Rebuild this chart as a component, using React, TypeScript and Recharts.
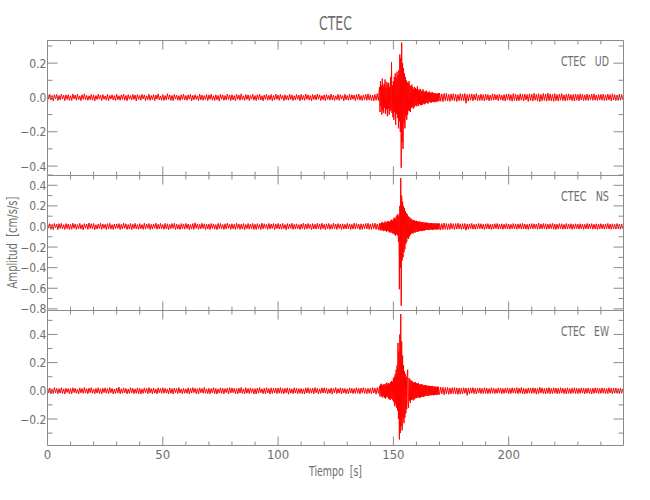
import { LineChart, Line, XAxis, YAxis } from "recharts";

// the quiet parts are read every 0.5 s, the event window (144-170 s) every 0.2 s
const QUIET_DT = 0.5;
const EVENT_DT = 0.2;
const EVENT_START = 144;
const POST_START = 170;

// ---- CTEC UD ----
const udPre = [
  .024,-.010,.018,-.015,.012,-.020,.016,-.008,.017,-.018,.011,-.014,.019,-.009,.013,-.019,.015,-.012,.016,-.017,
  .010,-.018,.020,-.009,.014,-.016,.018,-.013,.009,-.019,.016,-.011,.021,-.014,.012,-.017,.010,-.013,.018,-.016,
  .015,-.020,.011,-.012,.019,-.010,.014,-.018,.017,-.011,.009,-.016,.018,-.019,.012,-.009,.016,-.015,.011,-.018,
  .019,-.013,.010,-.017,.015,-.011,.020,-.016,.012,-.019,.016,-.010,.011,-.015,.018,-.012,.014,-.020,.017,-.011,
  .012,-.016,.018,-.009,.015,-.018,.010,-.013,.019,-.017,.011,-.012,.016,-.019,.014,-.010,.021,-.015,.009,-.016,
  .017,-.018,.011,-.014,.022,-.011,.015,-.017,.012,-.019,.018,-.010,.014,-.016,.010,-.018,.016,-.012,.019,-.015,
  .011,-.017,.015,-.010,.018,-.020,.012,-.014,.016,-.011,.010,-.018,.020,-.015,.014,-.017,.011,-.012,.017,-.019,
  .015,-.011,.019,-.016,.010,-.018,.016,-.014,.012,-.021,.018,-.010,.015,-.017,.011,-.015,.020,-.012,.014,-.018,
  .016,-.015,.011,-.019,.018,-.011,.014,-.016,.021,-.013,.010,-.017,.017,-.012,.015,-.018,.012,-.010,.019,-.016,
  .011,-.018,.016,-.012,.019,-.015,.010,-.020,.015,-.011,.018,-.016,.012,-.014,.017,-.019,.011,-.015,.020,-.011,
  .014,-.017,.018,-.010,.012,-.019,.016,-.014,.011,-.016,.019,-.012,.015,-.018,.010,-.015,.017,-.011,.014,-.020,
  .018,-.014,.012,-.017,.020,-.011,.015,-.016,.011,-.019,.017,-.012,.014,-.015,.019,-.010,.016,-.018,.011,-.014,
  .015,-.019,.017,-.011,.012,-.016,.020,-.015,.014,-.018,.010,-.013,.018,-.017,.016,-.010,.011,-.020,.019,-.014,
  .012,-.016,.018,-.015,.016,-.011,.014,-.019,.017,-.012,.020,-.016,.011,-.018,.015,-.014,.018,-.017,.021,-.015,
  .016,-.018,.014,-.020,.018,-.016,.022,-.018,
];
const udEvent = [
  .060,-.085,.095,-.050,.070,-.100,.110,-.075,.065,-.090,
  .080,-.060,.105,-.095,.055,-.070,.090,-.110,.075,-.065,
  .085,-.100,.060,-.080,.120,-.070,.205,-.090,.070,-.115,
  .095,-.130,.120,-.085,.140,-.160,.110,-.095,.150,-.120,
  .130,-.180,.160,-.140,.250,-.200,.230,-.410,.320,-.260,
  .200,-.300,.170,-.150,.140,-.180,.120,-.110,.100,-.130,
  .090,-.100,.085,-.075,.095,-.080,.070,-.085,.065,-.060,
  .075,-.055,.060,-.065,.050,-.058,.062,-.045,.055,-.050,
  .048,-.052,.065,-.040,.045,-.050,.042,-.038,.050,-.044,
  .040,-.045,.036,-.042,.048,-.034,.038,-.040,.032,-.036,
  .035,-.030,.040,-.033,.028,-.036,.030,-.028,.034,-.026,
  .028,-.030,.025,-.029,.032,-.024,.027,-.026,.024,-.028,
  .026,-.022,.024,-.027,.021,-.025,.023,-.020,.025,-.022,
];
const udPost = [
  .026,-.022,.020,-.025,.023,-.019,.024,-.021,.018,-.023,.021,-.017,.022,-.020,.019,-.024,.017,-.019,.022,-.018,
  .020,-.019,.023,-.034,.017,-.021,.019,-.016,.021,-.020,.018,-.015,.022,-.019,.014,-.018,.020,-.017,.016,-.021,
  .019,-.015,.017,-.020,.014,-.017,.021,-.016,.018,-.014,.016,-.019,.020,-.015,.013,-.018,.017,-.021,.019,-.014,
  .021,-.018,.016,-.022,.023,-.017,.019,-.020,.015,-.019,.022,-.016,.018,-.021,.020,-.015,.017,-.023,.021,-.018,
  .019,-.021,.024,-.016,.018,-.020,.022,-.025,.017,-.019,.023,-.017,.020,-.022,.025,-.018,.021,-.020,.018,-.023,
  .022,-.019,.017,-.021,.020,-.016,.023,-.018,.015,-.020,.019,-.017,.021,-.015,.016,-.019,.018,-.021,.020,-.016,
  .017,-.020,.021,-.015,.018,-.019,.015,-.017,.020,-.018,.016,-.014,.019,-.017,.021,-.016,.014,-.018,.017,-.015,
  .018,-.016,.020,-.019,.015,-.017,.019,-.014,.017,-.020,.021,-.015,.016,-.018,.014,-.017,.019,-.016,.017,-.013,
];

// ---- CTEC NS ----
const nsPre = [
  .032,-.016,.026,-.028,.020,-.030,.029,-.014,.023,-.031,.027,-.019,.030,-.024,.017,-.029,.028,-.021,.024,-.030,
  .021,-.027,.031,-.018,.025,-.029,.019,-.022,.030,-.025,.018,-.032,.028,-.017,.024,-.028,.034,-.020,.026,-.024,
  .029,-.031,.017,-.025,.022,-.019,.030,-.028,.025,-.018,.021,-.030,.027,-.022,.031,-.026,.018,-.029,.024,-.021,
  .025,-.019,.028,-.030,.021,-.024,.032,-.018,.026,-.029,.019,-.025,.029,-.031,.022,-.021,.030,-.024,.018,-.028,
  .028,-.022,.019,-.029,.031,-.025,.024,-.019,.029,-.030,.021,-.026,.025,-.018,.032,-.028,.022,-.024,.030,-.021,
  .019,-.028,.030,-.024,.026,-.032,.021,-.022,.028,-.019,.031,-.029,.024,-.025,.018,-.030,.029,-.021,.025,-.026,
  .030,-.021,.024,-.031,.019,-.025,.028,-.029,.036,-.018,.025,-.028,.021,-.024,.031,-.019,.026,-.030,.022,-.025,
  .024,-.030,.029,-.019,.025,-.026,.018,-.031,.030,-.022,.028,-.021,.019,-.029,.026,-.025,.032,-.018,.021,-.028,
  .026,-.024,.021,-.030,.031,-.019,.025,-.028,.022,-.025,.029,-.031,.019,-.022,.028,-.026,.024,-.021,.030,-.029,
  .022,-.029,.028,-.021,.019,-.030,.032,-.024,.026,-.018,.021,-.028,.030,-.025,.024,-.019,.029,-.031,.025,-.022,
  .029,-.025,.022,-.026,.030,-.021,.019,-.032,.028,-.024,.025,-.019,.031,-.029,.021,-.025,.026,-.022,.018,-.030,
  .025,-.021,.031,-.028,.024,-.025,.029,-.019,.021,-.031,.028,-.024,.022,-.026,.030,-.021,.025,-.029,.032,-.022,
  .021,-.030,.026,-.022,.029,-.028,.019,-.025,.031,-.021,.024,-.029,.028,-.019,.022,-.030,.026,-.025,.021,-.024,
  .030,-.022,.025,-.029,.021,-.026,.032,-.024,.028,-.019,.022,-.031,.026,-.028,.024,-.021,.029,-.025,.031,-.028,
  .024,-.028,.030,-.022,.032,-.029,.025,-.031,
];
const nsEvent = [
  .030,-.035,.028,-.040,.036,-.030,.042,-.038,.032,-.045,
  .040,-.036,.048,-.042,.035,-.050,.045,-.040,.052,-.046,
  .050,-.055,.045,-.060,.058,-.050,.065,-.062,.055,-.070,
  .075,-.068,.085,-.080,.070,-.090,.095,-.075,.110,-.085,
  .120,-.150,.100,-.610,.200,-.400,.470,-.770,.300,-.330,
  .240,-.300,.200,-.250,.180,-.220,.150,-.170,.130,-.150,
  .120,-.110,.100,-.120,.090,-.095,.085,-.080,.075,-.070,
  .070,-.065,.060,-.068,.062,-.055,.058,-.060,.052,-.055,
  .055,-.048,.050,-.052,.045,-.048,.050,-.042,.046,-.044,
  .042,-.045,.040,-.038,.044,-.040,.036,-.042,.038,-.035,
  .036,-.034,.038,-.032,.035,-.036,.030,-.034,.033,-.031,
  .032,-.030,.034,-.029,.031,-.033,.028,-.030,.032,-.027,
  .030,-.028,.027,-.031,.029,-.026,.030,-.028,.026,-.029,
];
const nsPost = [
  .030,-.032,.028,-.031,.033,-.027,.029,-.030,.026,-.029,.031,-.025,.027,-.030,.028,-.026,.032,-.024,.026,-.028,
  .027,-.025,.029,-.036,.024,-.027,.026,-.023,.030,-.026,.022,-.028,.025,-.024,.029,-.021,.027,-.025,.023,-.029,
  .026,-.022,.028,-.025,.021,-.029,.024,-.023,.027,-.020,.029,-.026,.023,-.024,.026,-.028,.022,-.021,.028,-.025,
  .024,-.027,.021,-.023,.029,-.022,.025,-.028,.023,-.021,.027,-.025,.030,-.023,.024,-.026,.021,-.029,.025,-.022,
  .028,-.024,.026,-.021,.023,-.027,.032,-.025,.024,-.023,.029,-.022,.027,-.028,.023,-.024,.026,-.020,.030,-.027,
  .025,-.029,.023,-.024,.028,-.021,.026,-.027,.021,-.025,.029,-.023,.024,-.022,.027,-.028,.022,-.025,.026,-.021,
  .023,-.026,.027,-.022,.024,-.028,.021,-.023,.029,-.025,.025,-.020,.028,-.027,.022,-.024,.026,-.029,.024,-.023,
  .027,-.023,.022,-.026,.025,-.021,.029,-.024,.023,-.028,.026,-.022,.021,-.025,.028,-.023,.024,-.027,.025,-.020,
];

// ---- CTEC EW ----
const ewPre = [
  .024,-.014,.020,-.022,.013,-.019,.023,-.014,.017,-.021,.015,-.016,.022,-.018,.014,-.023,.019,-.012,.016,-.021,
  .016,-.020,.022,-.013,.018,-.017,.012,-.022,.021,-.015,.017,-.018,.024,-.016,.015,-.021,.020,-.013,.023,-.017,
  .013,-.021,.017,-.016,.022,-.018,.015,-.023,.018,-.013,.021,-.017,.016,-.020,.023,-.014,.017,-.022,.013,-.018,
  .020,-.016,.026,-.021,.014,-.017,.021,-.014,.017,-.022,.013,-.018,.022,-.016,.018,-.021,.014,-.017,.021,-.020,
  .017,-.022,.014,-.018,.021,-.013,.018,-.021,.023,-.016,.016,-.020,.020,-.017,.013,-.022,.022,-.014,.017,-.018,
  .022,-.017,.018,-.016,.014,-.021,.021,-.018,.016,-.023,.020,-.014,.017,-.020,.023,-.016,.013,-.021,.018,-.017,
  .014,-.018,.021,-.022,.017,-.016,.023,-.013,.018,-.020,.016,-.022,.021,-.014,.017,-.018,.024,-.017,.014,-.021,
  .018,-.021,.016,-.014,.022,-.020,.017,-.023,.014,-.016,.021,-.018,.018,-.021,.016,-.013,.020,-.022,.023,-.016,
  .021,-.013,.017,-.020,.016,-.022,.020,-.016,.024,-.018,.014,-.021,.022,-.017,.017,-.020,.021,-.014,.016,-.023,
  .016,-.022,.020,-.017,.023,-.014,.014,-.021,.018,-.020,.022,-.016,.016,-.023,.021,-.018,.017,-.016,.020,-.021,
  .020,-.017,.023,-.018,.016,-.021,.018,-.014,.021,-.024,.017,-.017,.014,-.020,.022,-.016,.018,-.021,.016,-.018,
  .017,-.020,.014,-.022,.021,-.016,.022,-.018,.016,-.017,.020,-.021,.023,-.014,.017,-.022,.014,-.018,.021,-.016,
  .022,-.016,.018,-.021,.014,-.018,.020,-.023,.017,-.014,.023,-.020,.016,-.017,.021,-.022,.018,-.016,.017,-.020,
  .014,-.021,.021,-.016,.018,-.020,.016,-.018,.022,-.017,.017,-.023,.020,-.014,.023,-.018,.016,-.021,.018,-.017,
  .018,-.021,.023,-.016,.020,-.024,.022,-.018,
];
const ewEvent = [
  .035,-.040,.045,-.030,.050,-.042,.038,-.048,.044,-.036,
  .048,-.050,.040,-.055,.052,-.045,.058,-.040,.046,-.052,
  .055,-.060,.050,-.065,.062,-.055,.070,-.058,.065,-.068,
  .090,-.080,.100,-.110,.120,-.095,.150,-.120,.180,-.140,
  .340,-.200,.280,-.345,.400,-.300,.545,-.250,.350,-.280,
  .250,-.200,.180,-.230,.140,-.190,.120,-.160,.100,-.130,
  .110,.150,-.080,-.120,.090,-.070,.080,-.085,.075,-.065,
  .070,-.060,.065,-.068,.058,-.062,.060,-.055,.062,-.050,
  .055,-.052,.050,-.048,.056,-.045,.048,-.050,.044,-.046,
  .045,-.042,.048,-.040,.042,-.044,.038,-.040,.041,-.036,
  .040,-.035,.038,-.037,.034,-.036,.036,-.032,.035,-.033,
  .034,-.030,.032,-.031,.035,-.028,.030,-.032,.029,-.030,
  .031,-.027,.029,-.030,.026,-.029,.030,-.025,.028,-.027,
];
const ewPost = [
  -.024,.026,-.022,.025,-.028,.023,-.021,.024,-.025,.020,-.023,.022,-.019,.024,-.022,.021,-.026,.020,-.023,.019,
  -.021,.022,-.018,.020,-.032,.019,-.022,.021,-.017,.023,-.020,.018,-.022,.019,-.016,.021,-.020,.017,-.019,.022,
  -.018,.020,-.021,.016,-.019,.022,-.017,.019,-.020,.015,-.018,.021,-.016,.020,-.022,.017,-.019,.018,-.015,.021,
  -.020,.017,-.019,.022,-.016,.020,-.018,.023,-.021,.019,-.017,.024,-.020,.018,-.022,.016,-.019,.021,-.017,.020,
  -.019,.022,-.017,.020,-.023,.018,-.020,.025,-.016,.021,-.019,.017,-.022,.020,-.018,.023,-.021,.017,-.019,.022,
  -.017,.020,-.021,.018,-.019,.022,-.016,.019,-.020,.017,-.022,.021,-.018,.016,-.020,.019,-.017,.022,-.019,.018,
  -.020,.017,-.018,.021,-.016,.019,-.021,.018,-.017,.020,-.019,.016,-.022,.019,-.018,.021,-.016,.020,-.019,.017,
  -.018,.021,-.017,.019,-.020,.016,-.019,.022,-.016,.018,-.021,.019,-.017,.020,-.018,.016,-.020,.019,-.017,.014,
];

const xTicks = [0, 10, 20, 30, 40, 50, 60, 70, 80, 90, 100, 110, 120, 130, 140, 150, 160, 170, 180, 190, 200, 210, 220, 230, 240];
const xMajor = [0, 50, 100, 150, 200];

const udTicks = [-0.4, -0.3, -0.2, -0.1, 0, 0.1, 0.2, 0.3];
const nsTicks = [-0.8, -0.7, -0.6, -0.5, -0.4, -0.3, -0.2, -0.1, 0, 0.1, 0.2, 0.3, 0.4, 0.5];
const ewTicks = [-0.3, -0.2, -0.1, 0, 0.1, 0.2, 0.3, 0.4, 0.5];
const yMajor = [-0.8, -0.6, -0.4, -0.2, 0, 0.2, 0.4];

const AXIS = "#8a8a8a";
const TEXT = "#6e6e6e";
const FONT = "'Liberation Sans Narrow', 'DejaVu Sans Condensed', sans-serif";

const toRows = (pre: number[], ev: number[], post: number[]) => [
  ...pre.map((v, i) => ({ t: i * QUIET_DT, v })),
  ...ev.map((v, i) => ({ t: EVENT_START + i * EVENT_DT, v })),
  ...post.map((v, i) => ({ t: POST_START + i * QUIET_DT, v })),
];

const panels = [
  { name: "UD", rows: toRows(udPre, udEvent, udPost), ticks: udTicks, domain: [-0.455, 0.332], top: 40.5, bottom: 175.5, labelY: 66 },
  { name: "NS", rows: toRows(nsPre, nsEvent, nsPost), ticks: nsTicks, domain: [-0.816, 0.495], top: 175.5, bottom: 310.5, labelY: 201 },
  { name: "EW", rows: toRows(ewPre, ewEvent, ewPost), ticks: ewTicks, domain: [-0.388, 0.57], top: 310.5, bottom: 445.5, labelY: 336 },
];

const isMajorY = (v: number) => yMajor.some((m) => Math.abs(m - v) < 1e-6);
const fmt = (v: number) => v.toFixed(1).replace("-", "\u2212");

function xTick(side: "top" | "bottom", labeled: boolean) {
  return (p: any) => {
    const v = p.payload.value;
    const major = xMajor.includes(v);
    const len = major ? 9 : 4;
    const dir = side === "bottom" ? -1 : 1;
    return (
      <g>
        <line x1={p.x} x2={p.x} y1={p.y} y2={p.y + dir * len} stroke={AXIS} />
        {labeled && major && (
          <text x={p.x} y={p.y + 13} textAnchor="middle" fontSize={13} fill={TEXT} fontFamily={FONT}>
            {v}
          </text>
        )}
      </g>
    );
  };
}

function yTick(side: "left" | "right", labeled: boolean) {
  return (p: any) => {
    const v = p.payload.value;
    const major = isMajorY(v);
    const len = major ? 10 : 5;
    const dir = side === "left" ? 1 : -1;
    return (
      <g>
        <line x1={p.x} x2={p.x + dir * len} y1={p.y} y2={p.y} stroke={AXIS} />
        {labeled && major && (
          <text x={p.x - 1} y={p.y + 4.5} textAnchor="end" fontSize={12} fill={TEXT} fontFamily={FONT}>
            {fmt(v)}
          </text>
        )}
      </g>
    );
  };
}

function Panel({ p, last }: { p: (typeof panels)[number]; last: boolean }) {
  return (
    <div style={{ position: "absolute", left: 0, top: 0 }}>
      <LineChart
        width={650}
        height={500}
        data={p.rows}
        margin={{ top: p.top - 10, bottom: 500 - p.bottom - 10, left: 7.5, right: 16.5 }}
      >
        <XAxis
          xAxisId="b"
          orientation="bottom"
          type="number"
          dataKey="t"
          domain={[0, 249.8]}
          allowDataOverflow
          ticks={xTicks}
          interval={0}
          height={10}
          tickSize={0}
          tickMargin={0}
          tickLine={false}
          axisLine={{ stroke: AXIS }}
          tick={xTick("bottom", last)}
        />
        <XAxis
          xAxisId="t"
          orientation="top"
          type="number"
          dataKey="t"
          domain={[0, 249.8]}
          allowDataOverflow
          ticks={xTicks}
          interval={0}
          height={10}
          tickSize={0}
          tickMargin={0}
          tickLine={false}
          axisLine={{ stroke: AXIS }}
          tick={xTick("top", false)}
        />
        <YAxis
          yAxisId="l"
          orientation="left"
          type="number"
          domain={p.domain}
          allowDataOverflow
          ticks={p.ticks}
          interval={0}
          width={40}
          tickSize={0}
          tickMargin={0}
          tickLine={false}
          axisLine={{ stroke: AXIS }}
          tick={yTick("left", true)}
        />
        <YAxis
          yAxisId="r"
          orientation="right"
          type="number"
          domain={p.domain}
          allowDataOverflow
          ticks={p.ticks}
          interval={0}
          width={10}
          tickSize={0}
          tickMargin={0}
          tickLine={false}
          axisLine={{ stroke: AXIS }}
          tick={yTick("right", false)}
        />
        <Line
          xAxisId="b"
          yAxisId="l"
          dataKey="v"
          type="linear"
          stroke="#ff0000"
          strokeWidth={1}
          dot={false}
          isAnimationActive={false}
        />
      </LineChart>
    </div>
  );
}

export default function App() {
  return (
    <div style={{ position: "absolute", left: 0, top: 0, width: 650, height: 500, background: "#fff" }}>
      {panels.map((p, i) => (
        <Panel key={p.name} p={p} last={i === panels.length - 1} />
      ))}
      <svg width={650} height={500} style={{ position: "absolute", left: 0, top: 0, pointerEvents: "none" }}>
        <text x={335.5} y={30} textAnchor="middle" fontSize={20} fill={TEXT} fontFamily={FONT} textLength={33} lengthAdjust="spacingAndGlyphs">
          CTEC
        </text>
        {panels.map((p) => (
          <text key={p.name} x={561} y={p.labelY} fontSize={13.5} fill={TEXT} fontFamily={FONT} textLength={48} lengthAdjust="spacingAndGlyphs" style={{ whiteSpace: "pre" }}>
            {`CTEC   ${p.name}`}
          </text>
        ))}
        <text x={335.5} y={476} textAnchor="middle" fontSize={14} fill={TEXT} fontFamily={FONT} textLength={53} lengthAdjust="spacingAndGlyphs" style={{ whiteSpace: "pre" }}>
          {"Tiempo  [s]"}
        </text>
        <text x={17} y={242.5} transform="rotate(-90 17 242.5)" textAnchor="middle" fontSize={14} fill={TEXT} fontFamily={FONT} textLength={92} lengthAdjust="spacingAndGlyphs" style={{ whiteSpace: "pre" }}>
          {"Amplitud  [cm/s/s]"}
        </text>
      </svg>
    </div>
  );
}
